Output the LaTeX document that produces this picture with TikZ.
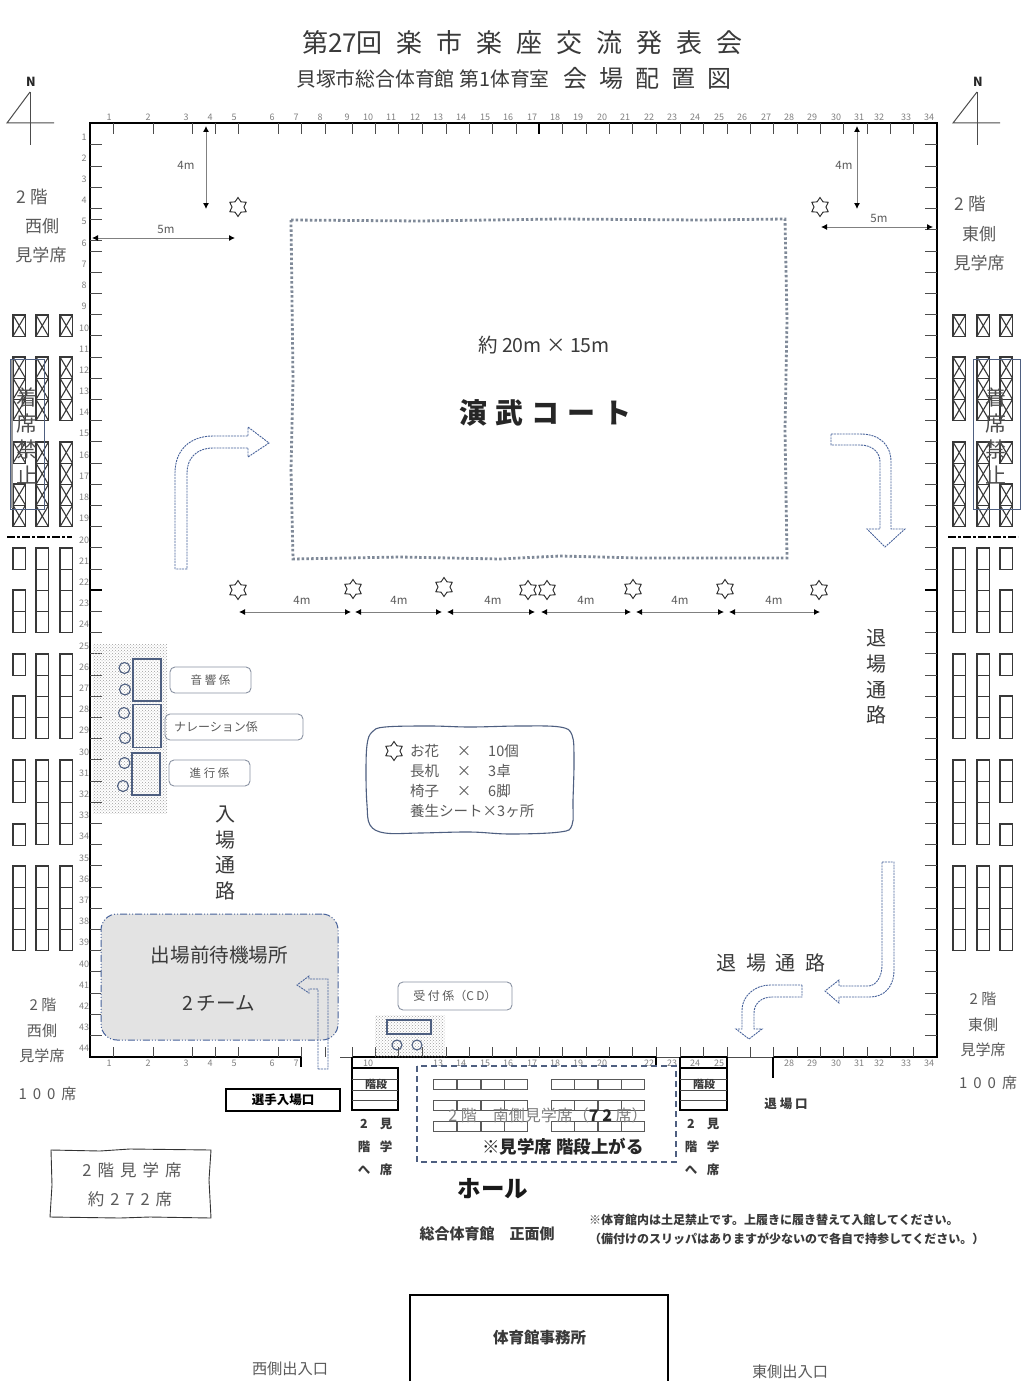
\documentclass[tikz,border=0pt]{standalone}
\usepackage{fontspec}
\usepackage{amsmath}
\setmainfont{Noto Sans CJK JP}
\usetikzlibrary{arrows.meta,patterns,shapes.geometric}
\definecolor{flowblue}{HTML}{46619A}
\definecolor{courtgray}{HTML}{7F8998}
\definecolor{boxblue}{HTML}{4E5F80}
\definecolor{boxgray}{HTML}{8A93A3}
\definecolor{txtdark}{HTML}{3A3A3A}
\definecolor{txtgray}{HTML}{5A5A5A}
\definecolor{rulegray}{HTML}{808080}
\newcommand{\fs}[2]{\fontsize{#1}{#2}\selectfont}
\newcommand{\wsp}[1]{\spaceskip=#1\relax}
\newcommand{\seats}[3]{%
    \foreach \k in {1,...,#3} {
        \draw [seatline] (#1,{#2+(\k-1)*21.2}) rectangle ++(12.5,21.2);
    }}
\newcommand{\xseats}[3]{%
    \foreach \k in {1,...,#3} {
        \draw [seatline] (#1,{#2+(\k-1)*21.2}) rectangle ++(12.5,21.2);
        \draw [seatline] (#1,{#2+(\k-1)*21.2}) -- ++(12.5,21.2);
        \draw [seatline] (#1+12.5,{#2+(\k-1)*21.2}) -- ++(-12.5,21.2);
    }}
\begin{document}
\begin{tikzpicture}[x=1pt,y=-1pt]
    \tikzstyle{every node}+=[inner sep=0pt]
    \tikzset{
        seatline/.style={black!78,line width=1.1},
        wall/.style={black,line width=2.4},
        thinline/.style={black!70,line width=0.6},
        tickline/.style={black!70,line width=1},
        num/.style={text=rulegray,font=\fs{9}{9}},
        flow/.style={flowblue,line width=0.9,dash pattern=on 2pt off 0.9pt},
        dimline/.style={black!50,line width=0.9,{Latex[black,length=6pt,width=6pt]}-{Latex[black,length=6pt,width=6pt]}},
        dimtext/.style={text=txtgray,font=\fs{11.5}{12}},
        flower/.style={draw=black!85,line width=0.9,shape=star,star points=6,star point ratio=1.6,minimum size=19},
        tag/.style={draw=boxgray,line width=0.9,rounded corners=5,text=txtgray},
        stafftable/.style={draw=boxblue,line width=1.1},
        dotsarea/.style={pattern=crosshatch dots,pattern color=black!38},
        lbl/.style={text=txtgray},
        hdr/.style={text=txtdark},
        stair/.style={black,line width=1.6}
    }
    \useasboundingbox (0,0) rectangle (1031,1399);
    \fill [white] (0,0) rectangle (1031,1399);

    \node [hdr,font=\fs{26}{26}\wsp{14pt}] (title) at (522.5,43) {第27回 楽 市 楽 座 交 流 発 表 会};
    \node [hdr,font=\fs{19.8}{20}\wsp{5pt}] (hall) at (423,79) {貝塚市総合体育館 第1体育室};
    \node [hdr,font=\fs{24}{24}\wsp{12pt}] (plan) at (647,78) {会 場 配 置 図};

    \node [black!85,font=\bfseries\fs{12.5}{13}] (northw) at (31,82) {N};
    \draw [black!70,line width=1] (30,92) -- (7,123) -- (54,123);
    \draw [black!70,line width=1] (30,92) -- (30,145);
    \node [black!85,font=\bfseries\fs{12.5}{13}] (northe) at (978,82) {N};
    \draw [black!70,line width=1] (977,92) -- (953,123) -- (1000,123);
    \draw [black!70,line width=1] (977,92) -- (977,145);

    \coordinate (nw) at (90,123);
    \coordinate (ne) at (937,123);
    \coordinate (sw) at (90,1057);
    \coordinate (se) at (937,1057);
    \coordinate (sdoor) at (301,1057);
    \coordinate (hallw) at (352,1057);
    \coordinate (halle) at (656,1057);
    \coordinate (stairw) at (680,1057);
    \coordinate (staire) at (727,1057);
    \coordinate (exitw) at (773,1057);
    \draw [thinline] (340,1057) -- (hallw);
    \draw [thinline] (halle) -- (stairw);
    \draw [thinline] (staire) -- (exitw);
    \draw [wall] (sdoor) -- (sw) -- (nw) -- (ne) -- (se) -- (exitw);
    \draw [wall] (hallw) -- (halle);
    \draw [wall] (stairw) -- (staire);
    \draw [wall] (sdoor) -- ++(0,10);
    \draw [wall] (halle) -- ++(0,10);
    \draw [wall] (exitw) -- ++(0,21);

    \foreach \x in {113,153,192,215,238,278,301,325,352,375,398,422,446,469,492,516,562,586,609,632,656,680,703,727,750,773,797,820,843,867,890,913} {
        \draw [tickline] (\x,123) -- ++(0,11);
    }
    \draw [wall] (539,123) -- ++(0,11);
    \foreach \x in {113,153,192,215,238,278,301,352,375,398,422,446,469,492,516,539,562,586,609,632,656,680,703,727,750,773,797,820,843,867,890,913} {
        \draw [tickline] (\x,1047) -- (\x,1057);
    }
    \foreach \k in {0,...,42} {
        \draw [tickline] (925,{145+\k*21.2}) -- (937,{145+\k*21.2});
        \ifnum\k=4\else
            \draw [tickline] (90,{145+\k*21.2}) -- (102,{145+\k*21.2});
        \fi
    }
    \draw [tickline] (90,219) -- (102,219);
    \draw [tickline] (90,240) -- (102,240);
    \draw [black,line width=1.6] (90,590) -- (102,590);
    \draw [black,line width=1.6] (925,590) -- (937,590);

    \foreach \n/\x in {1/109,2/148,3/186,4/210,5/234,6/272,7/296,8/320,9/347,10/368,11/391,12/415,13/438,14/461,15/485,16/508,17/532,18/555,19/578,20/602,21/625,22/649,23/672,24/695,25/719,26/742,27/766,28/789,29/812,30/836,31/859,32/879,33/906,34/929} {
        \node [num] (top\n) at (\x,117) {\n};
    }
    \foreach \n/\x in {1/109,2/148,3/186,4/210,5/234,6/272,7/296,10/368,13/438,14/461,15/485,16/508,17/532,18/555,19/578,20/602,22/649,23/672,24/695,25/719,28/789,29/812,30/836,31/859,32/879,33/906,34/929} {
        \node [num] (bot\n) at (\x,1063) {\n};
    }
    \foreach \n in {1,...,44} {
        \node [num] (side\n) at (84,{137+(\n-1)*21.2}) {\n};
    }

    \node [lbl,font=\fs{17.5}{18}] (w2f) at (32,197) {2 階};
    \node [lbl,font=\fs{17}{17}] (wside) at (42,226) {西側};
    \node [lbl,font=\fs{17}{17}] (wseat) at (41,255) {見学席};
    \node [lbl,font=\fs{17.5}{18}] (e2f) at (970,204) {2 階};
    \node [lbl,font=\fs{17}{17}] (eside) at (979,234) {東側};
    \node [lbl,font=\fs{17}{17}] (eseat) at (979,263) {見学席};
    \node [lbl,font=\fs{15}{15}] (w2fb) at (43,1005) {2 階};
    \node [lbl,font=\fs{15}{15}] (wsideb) at (42,1031) {西側};
    \node [lbl,font=\fs{15}{15}] (wseatb) at (42,1056) {見学席};
    \node [lbl,font=\fs{15}{15}\wsp{6pt}] (wcount) at (47.5,1094) {1 0 0 席};
    \node [lbl,font=\fs{15}{15}] (e2fb) at (983,999) {2 階};
    \node [lbl,font=\fs{15}{15}] (esideb) at (983,1025) {東側};
    \node [lbl,font=\fs{15}{15}] (eseatb) at (983,1050) {見学席};
    \node [lbl,font=\fs{15}{15}\wsp{6pt}] (ecount) at (988,1083) {1 0 0 席};

    \foreach \x in {13,36,60,953,977,1000} {
        \xseats{\x}{315}{1}
        \xseats{\x}{357}{3}
    }
    \foreach \x in {36,60,953,977} {
        \xseats{\x}{442}{4}
        \seats{\x}{548}{4}
        \seats{\x}{654}{4}
        \seats{\x}{760}{4}
    }
    \foreach \x in {13,1000} {
        \xseats{\x}{442}{1}
        \xseats{\x}{484}{2}
        \seats{\x}{548}{1}
        \seats{\x}{590}{2}
        \seats{\x}{654}{1}
        \seats{\x}{696}{2}
        \seats{\x}{760}{2}
        \seats{\x}{824}{1}
    }
    \foreach \x in {13,36,60,953,977,1000} {
        \seats{\x}{866}{4}
    }
    \draw [black,line width=1.6,dash pattern=on 8pt off 2pt on 3pt off 2pt] (7,537) -- (72,537);
    \draw [black,line width=1.6,dash pattern=on 8pt off 2pt on 3pt off 2pt] (948,537) -- (1018,537);

    \draw [boxblue,line width=0.8] (10,359) rectangle (44,509);
    \draw [black!40,line width=2] (11.5,360) -- (11.5,508);
    \node [text=black!70,align=center,font=\fs{21}{26}] (nosita) at (27,436) {着\\席\\禁\\止};
    \draw [boxblue,line width=0.8] (973,359) rectangle (1020,509);
    \node [text=black!70,align=center,font=\fs{21}{26}] (nositb) at (996,436) {着\\席\\禁\\止};

    \draw [courtgray,line width=2.8,dash pattern=on 2.5pt off 2.2pt]
        (291,220) -- (420,221) -- (560,219) -- (700,220) -- (785,219) -- (787,320) -- (785,430) -- (787,558)
        -- (640,558) -- (560,556) -- (500,559) -- (400,557) -- (293,559) -- (291,470) -- (293,380) -- cycle;
    \node [hdr,font=\fs{19.5}{20}] (size) at (544,345) {約 20m × 15m};
    \node [text=black!85,font=\bfseries\fs{28}{28}\wsp{8pt}] (court) at (545.5,413) {演 武 コ ー ト};

    \node [flower] (f1) at (238,207) {};
    \node [flower] (f2) at (820,207) {};
    \node [flower] (f3) at (238,590) {};
    \node [flower] (f4) at (353,589) {};
    \node [flower] (f5) at (444,587) {};
    \node [flower] (f6) at (528,590) {};
    \node [flower] (f7) at (547,590) {};
    \node [flower] (f8) at (633,589) {};
    \node [flower] (f9) at (725,589) {};
    \node [flower] (f10) at (819,590) {};
    \node [flower] (f11) at (394,751) {};

    \coordinate (d4wa) at (206,126);
    \coordinate (d4wb) at (206,209);
    \coordinate (d5wa) at (92,238);
    \coordinate (d5wb) at (235,238);
    \coordinate (d4ea) at (857,126);
    \coordinate (d4eb) at (857,209);
    \coordinate (d5ea) at (821,227);
    \coordinate (d5eb) at (933,227);
    \draw [dimline] (d4wa) -- (d4wb);
    \draw [dimline] (d5wa) -- (d5wb);
    \draw [dimline] (d4ea) -- (d4eb);
    \draw [dimline] (d5ea) -- (d5eb);
    \node [dimtext] (t4w) at (186,165) {4m};
    \node [dimtext] (t5w) at (166,229) {5m};
    \node [dimtext] (t4e) at (844,165) {4m};
    \node [dimtext] (t5e) at (879,218) {5m};
    \foreach \a/\b/\t [count=\i] in {239/351/302,355/442/399,447/535/493,541/631/586,636/724/680,729/820/774} {
        \coordinate (rowa\i) at (\a,612);
        \coordinate (rowb\i) at (\b,612);
        \draw [dimline] (rowa\i) -- (rowb\i);
        \node [dimtext] (rowt\i) at (\t,600) {4m};
    }

    \draw [flow] (175,569) -- (175,473) .. controls (175,450) and (190,436) .. (213,436) -- (248,436) -- (248,427)
        -- (269,443) -- (248,457) -- (248,448) -- (213,448) .. controls (197,448) and (187,458) .. (187,473) -- (187,569) -- cycle;
    \draw [flow] (831,434) -- (860,434) .. controls (880,434) and (891,445) .. (891,462) -- (891,529) -- (905,529)
        -- (885,547) -- (867,529) -- (880,529) -- (880,462) .. controls (880,452) and (872,445) .. (860,445) -- (831,445) -- cycle;
    \draw [flow] (882,862) -- (894,862) -- (894,970) .. controls (894,987) and (884,997) .. (870,997) -- (839,997) -- (839,1003)
        -- (825,991) -- (839,980) -- (839,986) -- (868,986) .. controls (876,986) and (882,977) .. (882,965) -- cycle;
    \draw [flow] (802,985) -- (802,997) -- (772,997) .. controls (761,997) and (754,1004) .. (754,1013) -- (754,1029) -- (762,1029)
        -- (749,1039) -- (736,1029) -- (742,1029) -- (742,1010) .. controls (742,996) and (755,985) .. (770,985) -- cycle;

    \node [draw=flowblue,fill=black!11,line width=1,rounded corners=16,dash pattern=on 7pt off 2pt on 1pt off 2pt on 1pt off 2pt,
        minimum width=237,minimum height=126] (waiting) at (219.5,977) {};
    \node [hdr,font=\fs{19.6}{20}] (waittext) at (219.5,955) {出場前待機場所};
    \node [hdr,font=\fs{19.6}{20}\wsp{3pt}] (teams) at (219,1003) {2 チーム};
    \draw [flow] (318,1069) -- (328,1069) -- (328,979) -- (309,979) -- (309,976) -- (297,985) -- (309,993) -- (309,989) -- (318,989) -- cycle;
    \draw [tickline] (325,1047) -- (325,1057);

    \fill [dotsarea] (93,644) rectangle (167,813);
    \node [stafftable,minimum width=28,minimum height=42] (desk1) at (147,680) {};
    \node [stafftable,minimum width=28,minimum height=43] (desk2) at (147,726) {};
    \node [stafftable,minimum width=28,minimum height=42] (desk3) at (146,774) {};
    \foreach \x/\y in {124.5/668,125/689.5,124/713,125/738,124.5/763,123/786} {
        \draw [boxblue,line width=1.1] (\x,\y) circle [radius=5.5];
    }
    \node [tag,minimum width=81,minimum height=26,font=\fs{11.5}{12}] (sound) at (210.5,680) {音 響 係};
    \node [tag,minimum width=138,minimum height=26] (narr) at (234,727) {};
    \node [lbl,anchor=west,font=\fs{12}{12}] (narrtext) at (174,727) {ナレーション係};
    \node [tag,minimum width=81,minimum height=26,font=\fs{11.5}{12}] (prog) at (209.5,773) {進 行 係};
    \node [hdr,align=center,font=\fs{20}{25.6}] (inway) at (225,853) {入\\場\\通\\路};
    \node [hdr,align=center,font=\fs{20}{25.6}] (outway) at (876,677) {退\\場\\通\\路};
    \node [hdr,font=\fs{20}{20}\wsp{9.5pt}] (outwayb) at (771,963) {退 場 通 路};

    \draw [boxblue,line width=1.1] plot [smooth cycle,tension=0.6] coordinates {(367,745) (372,732) (385,727) (430,726) (470,727) (520,726) (560,727) (572,735) (574,760) (573,800) (572,825) (560,832) (510,834) (470,832) (420,833) (385,833) (370,825) (367,805) (366,775)};
    \node [lbl,anchor=west,font=\fs{14.5}{15}] (leg1a) at (410,751) {お花};
    \node [lbl,anchor=west,font=\fs{14.5}{15}] (leg2a) at (410,771) {長机};
    \node [lbl,anchor=west,font=\fs{14.5}{15}] (leg3a) at (410,791) {椅子};
    \node [lbl,font=\fs{14.5}{15}] (leg1b) at (464,751) {×};
    \node [lbl,font=\fs{14.5}{15}] (leg2b) at (464,771) {×};
    \node [lbl,font=\fs{14.5}{15}] (leg3b) at (464,791) {×};
    \node [lbl,anchor=west,font=\fs{14.5}{15}] (leg1c) at (488,751) {10個};
    \node [lbl,anchor=west,font=\fs{14.5}{15}] (leg2c) at (488,771) {3卓};
    \node [lbl,anchor=west,font=\fs{14.5}{15}] (leg3c) at (488,791) {6脚};
    \node [lbl,anchor=west,font=\fs{14.5}{15}] (leg4) at (410,811) {養生シート×3ヶ所};

    \node [tag,minimum width=114,minimum height=28,font=\fs{12}{12}\wsp{2.5pt}] (recep) at (455,996) {受 付 係（C D）};
    \fill [dotsarea] (375,1015) rectangle (445,1057);
    \node [stafftable,minimum width=44,minimum height=14] (recdesk) at (409,1027) {};
    \draw [boxblue,line width=1.1] (397,1045) circle [radius=5];
    \draw [boxblue,line width=1.1] (417,1045) circle [radius=5];

    \draw [stair] (352,1057) -- (352,1110) -- (398,1110) -- (398,1068) -- (352,1068);
    \draw [thinline,line width=0.9] (352,1079) -- (398,1079);
    \draw [thinline,line width=0.9] (352,1090) -- (398,1090);
    \draw [thinline,line width=0.9] (352,1100) -- (398,1100);
    \node [text=txtdark,font=\bfseries\fs{11}{11}] (stepw) at (376,1084) {階段};
    \draw [stair] (680,1057) -- (680,1110) -- (727,1110) -- (727,1057);
    \draw [stair] (680,1068) -- (727,1068);
    \draw [thinline,line width=0.9] (680,1079) -- (727,1079);
    \draw [thinline,line width=0.9] (680,1090) -- (727,1090);
    \draw [thinline,line width=0.9] (680,1100) -- (727,1100);
    \node [text=txtdark,font=\bfseries\fs{11}{11}] (stepe) at (704,1084) {階段};

    \foreach \x/\a/\b/\c [count=\i] in {364/2/階/へ,386/見/学/席,691/2/階/へ,713/見/学/席} {
        \node [text=txtdark,font=\bfseries\fs{12.5}{13}] (upa\i) at (\x,1124) {\a};
        \node [text=txtdark,font=\bfseries\fs{12.5}{13}] (upb\i) at (\x,1147) {\b};
        \node [text=txtdark,font=\bfseries\fs{12.5}{13}] (upc\i) at (\x,1170) {\c};
    }

    \draw [boxblue,line width=1.4,dash pattern=on 6pt off 4pt] (417,1066) rectangle (676,1162);
    \foreach \y in {1079,1100,1121} {
        \foreach \x in {433,457,481,504,551,574,598,621} {
            \draw [black!65,line width=0.9] (\x,\y) rectangle ++(23.7,10.5);
        }
    }
    \node [text=black!50,font=\fs{16}{16}] (south) at (548,1115) {2 階　南側見学席（{\color{black!85}\bfseries 7 2} 席）};
    \node [text=black!85,font=\bfseries\fs{17.5}{18}] (southup) at (563,1147) {※見学席 階段上がる};
    \node [text=black!90,font=\bfseries\fs{23.5}{24}] (lobby) at (493,1189) {ホール};
    \node [text=txtdark,font=\bfseries\fs{15}{15}] (front) at (487,1234) {総合体育館　正面側};
    \node [text=txtdark,anchor=west,font=\bfseries\fs{12}{12}] (note1) at (589,1220) {※体育館内は土足禁止です。上履きに履き替えて入館してください。};
    \node [text=txtdark,anchor=west,font=\bfseries\fs{12}{12}] (note2) at (589,1239) {（備付けのスリッパはありますが少ないので各自で持参してください。）};

    \node [draw=black,line width=2,minimum width=114,minimum height=22,font=\bfseries\fs{12.5}{13}] (entry) at (283,1100) {選手入場口};
    \node [text=txtdark,font=\bfseries\fs{12.5}{13}] (exit) at (786,1104) {退 場 口};

    \draw [black!80,line width=0.9] (51,1150) -- (100,1151) -- (130,1149) -- (211,1150) -- (209,1180) -- (211,1218)
        -- (150,1217) -- (120,1218) -- (50,1217) -- (52,1185) -- cycle;
    \node [lbl,font=\fs{16.5}{17}\wsp{6pt}] (tot1) at (132,1170) {2 階 見 学 席};
    \node [lbl,font=\fs{16.5}{17}\wsp{6pt}] (tot2) at (130,1199) {約 2 7 2 席};

    \coordinate (offa) at (410,1381);
    \coordinate (offb) at (668,1381);
    \draw [black,line width=1.8] (offa) -- (410,1295) -- (668,1295) -- (offb);
    \node [text=txtdark,font=\bfseries\fs{15.5}{16}] (office) at (539.5,1338) {体育館事務所};
    \node [lbl,font=\fs{15.2}{15}] (wdoor) at (290,1369) {西側出入口};
    \node [lbl,font=\fs{15.2}{15}] (edoor) at (790,1372) {東側出入口};
    \end{tikzpicture}
\end{document}
